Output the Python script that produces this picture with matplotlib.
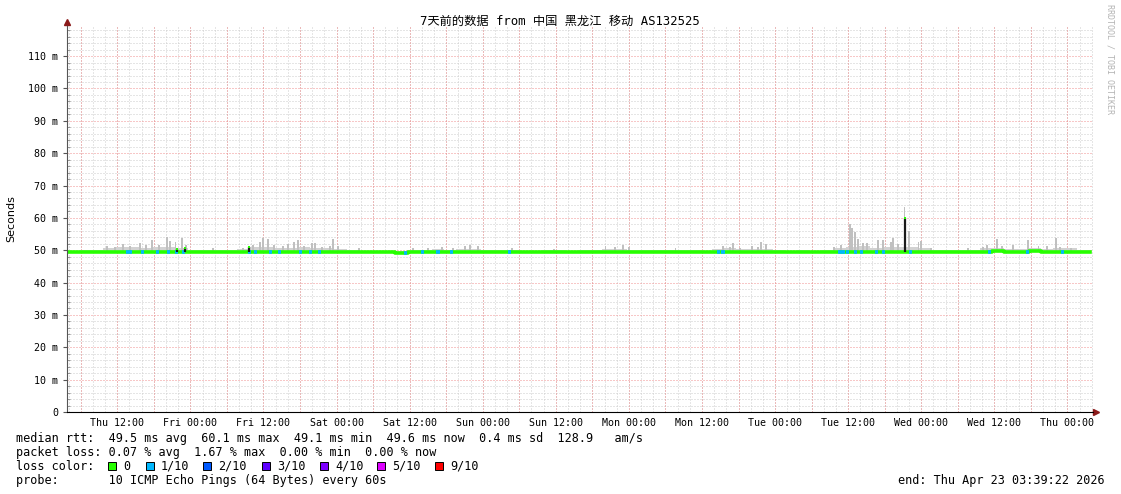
import datetime as dt
import matplotlib
matplotlib.use('Agg')
import matplotlib.pyplot as plt
from matplotlib.patches import Rectangle

# 数据：7天, 每块2小时 (从 Thu 03:39:22 开始)
start = dt.datetime(2026, 4, 16, 3, 39, 22)
span_hours = 168

median_ms = [
    49.4, 49.4, 49.5,
    49.5, 49.6, 49.5, 49.6, 49.5, 49.6, 49.5,
    49.4, 49.4, 49.4, 49.3, 49.4,
    49.6, 49.5, 49.6, 49.5, 49.5, 49.6, 49.5,
    49.4, 49.4, 49.4, 49.4, 49.3,
    49.2, 49.3, 49.3, 49.4, 49.4, 49.5, 49.5,
    49.4, 49.5, 49.5, 49.4, 49.5, 49.5, 49.4, 49.5,
    49.5, 49.5, 49.6, 49.5, 49.5, 49.5,
    49.5, 49.5, 49.4, 49.5, 49.5,
    49.6, 49.6, 49.5, 49.6, 49.6,
    49.5, 49.5, 49.5, 49.4, 49.5,
    49.4, 49.5, 49.4, 49.4, 49.5, 49.4, 49.6, 49.6,
    49.6, 49.5, 49.5, 49.6,
    49.6, 49.7, 49.6, 49.6, 49.7, 49.6, 49.6, 49.6,
    49.6,
]

smoke_top_ms = [
    49.9, 50.0, 50.2,
    50.8, 50.9, 50.9, 50.8, 51.0, 50.9, 50.8,
    50.1, 50.0, 50.0, 50.1, 50.3,
    50.9, 51.0, 50.8, 50.8, 51.0, 50.7, 50.7,
    50.3, 50.0, 49.9, 49.9, 49.8,
    49.9, 50.2, 50.2, 50.3, 50.2, 50.4, 50.4,
    50.0, 50.0, 50.2, 49.9, 49.9, 50.0, 50.0, 49.9,
    50.1, 50.0, 50.5, 50.4, 50.2, 50.0,
    50.0, 50.1, 50.0, 50.0, 49.9,
    50.3, 50.6, 50.4, 50.3, 50.5,
    50.0, 49.9, 50.0, 49.9, 50.0,
    50.7, 51.0, 51.2, 50.8, 50.9, 51.0, 50.9, 50.6,
    50.1, 50.0, 50.0, 50.2,
    50.6, 50.7, 50.5, 50.5, 50.6, 50.5, 50.7, 50.6,
    50.2,
]

# 烟雾尖峰 (小时, ms)
peak_hours = [6.7, 8.0, 9.2, 10.5, 12.1, 13.0, 14.0, 15.2, 16.5, 17.0, 17.9, 19.0, 19.6,
              24.0, 29.0, 30.6, 31.7, 32.3, 33.1, 34.0, 35.5, 36.4, 37.3, 38.0, 39.0,
              40.3, 40.8, 42.0, 43.2, 43.8, 44.6, 48.0, 56.9, 59.4, 61.7, 63.5, 65.5,
              66.3, 67.6, 73.2, 80.0, 88.5, 90.0, 91.3, 92.4, 100.0, 107.8, 109.0,
              109.5, 110.6, 112.6, 113.5, 114.1, 114.8, 126.0, 127.2, 128.6, 129.0,
              129.4, 130.0, 130.8, 131.5, 133.3, 134.1, 135.4, 135.7, 136.6, 137.6,
              138.4, 139.9, 140.3, 142.0, 148.0, 150.5, 151.2, 152.8, 153.6, 155.4,
              157.8, 159.6, 161.0, 162.4, 163.2, 165.0]
peak_ms = [51.4, 51.0, 51.8, 51.2, 52.1, 51.5, 53.1, 51.6, 54.1, 52.8, 52.6, 53.9, 51.5,
           50.6, 50.8, 51.6, 52.6, 53.9, 53.4, 51.5, 51.3, 51.8, 52.6, 53.1, 51.4,
           52.1, 52.1, 51.0, 51.4, 53.5, 51.2, 50.6, 50.8, 50.7, 51.1, 50.6, 51.3,
           51.5, 51.2, 50.6, 50.5, 51.4, 51.0, 51.6, 50.9, 50.6, 51.4, 51.0,
           52.1, 50.7, 51.2, 50.9, 52.6, 51.8, 51.0, 51.6, 58.0, 56.8,
           55.5, 53.5, 52.1, 52.1, 53.1, 53.2, 52.6, 53.7, 52.0, 63.4,
           55.9, 52.6, 52.8, 50.6, 50.6, 51.1, 51.5, 53.5, 51.3, 51.6,
           53.1, 51.3, 51.2, 53.9, 51.1, 50.7]

# 1/10 丢包的时刻
loss_hours = [10.0, 10.5, 12.5, 15.0, 16.8, 18.0, 19.2, 30.0, 31.0, 33.5, 35.0, 38.5,
              40.0, 41.5, 55.6, 58.4, 61.0, 63.2, 72.7, 107.0, 107.8, 127.0, 127.5,
              128.3, 129.5, 130.5, 133.0, 134.1, 138.6, 151.5, 157.8, 163.5]

# 中位数突跳
jump_hours = [18.1, 19.5, 30.0, 137.6]
jump_ms = [50.5, 50.7, 50.9, 60.1]

W, H = 1121, 494
fig = plt.figure(figsize=(W / 100, H / 100), dpi=100)
ax_l, ax_r, ax_t, ax_b = 66.5, 1093.3, 26, 412
ax = fig.add_axes([ax_l / W, 1 - ax_b / H, (ax_r - ax_l) / W, (ax_b - ax_t) / H])
ax.set_xlim(0, 168.6)
ax.set_ylim(0, 119.3)

# 网格
hour0 = start.hour + start.minute / 60 + start.second / 3600
first6 = (6 - hour0 % 6) % 6
first2 = (2 - hour0 % 2) % 2
h = first2
while h < 168.6:
    ax.axvline(h, color='#cccccc', lw=0.72, ls=(0, (1, 2)), zorder=0)
    h += 2
h = first6
while h < 168.6:
    ax.axvline(h, color='#f09090', lw=0.72, ls=(0, (1, 2)), zorder=0.5)
    h += 6
for v in range(2, 120, 2):
    c = '#f09090' if v % 10 == 0 else '#cccccc'
    ax.axhline(v, color=c, lw=0.72, ls=(0, (1, 2)), zorder=0.5 if v % 10 == 0 else 0)

# 烟雾
edges = [2 * i for i in range(len(median_ms) + 1)]
low = [m - 0.3 for m in median_ms]
ax.fill_between(edges, low + [low[-1]], smoke_top_ms + [smoke_top_ms[-1]],
                step='post', color='#d2d2d2', lw=0, zorder=1)
base = [median_ms[int(p // 2)] for p in peak_hours]
ax.bar(peak_hours, [p - b for p, b in zip(peak_ms, base)], bottom=base,
       width=0.32, color='#c0c0c0', lw=0, zorder=1.2)

# 中位数线
ax.step(edges, median_ms + [median_ms[-1]], where='post', color='#26ff00', lw=2.6, zorder=3)
loss_y = [median_ms[int(p // 2)] for p in loss_hours]
ax.hlines(loss_y, [p - 0.25 for p in loss_hours], [p + 0.25 for p in loss_hours],
          color='#00b8ff', lw=2.6, zorder=3.5)
jump_base = [median_ms[int(p // 2)] for p in jump_hours]
ax.vlines(jump_hours, jump_base, jump_ms, color='#1a1a1a', lw=1.6, zorder=4)
ax.plot(jump_hours, jump_ms, 's', color='#26ff00', ms=2, mew=0, zorder=5)

# 坐标轴
for s in ['top', 'right']:
    ax.spines[s].set_visible(False)
ax.spines['left'].set_color('#555555')
ax.spines['bottom'].set_color('#000000')
ax.spines['left'].set_zorder(6)
ax.spines['bottom'].set_zorder(6)
ax.plot([0], [1.01], marker='^', color='#8b1a1a', ms=4, transform=ax.transAxes, clip_on=False)
ax.plot([1.003], [0], marker='>', color='#8b1a1a', ms=4, transform=ax.transAxes, clip_on=False)

mono = 'DejaVu Sans Mono'
yt = list(range(0, 120, 10))
ax.set_yticks(yt)
ax.set_yticklabels(['0'] + [f'{v} m' for v in yt[1:]], family=mono, fontsize=7.2)
ax.set_yticks(range(0, 120, 2), minor=True)
ax.tick_params(axis='y', which='major', length=3, pad=3, color='#555555')
ax.tick_params(axis='y', which='minor', length=2, direction='in', color='#888888')

first12 = (12 - hour0 % 12) % 12
xt = []
h = first12
while h < 168.6:
    xt.append(h)
    h += 12
ax.set_xticks(xt)
ax.set_xticklabels([(start + dt.timedelta(hours=t)).strftime('%a %H:%M') for t in xt],
                   family=mono, fontsize=7.2)
ax.tick_params(axis='x', length=0, pad=4)


def px_text(x, y, s, **kw):
    fig.text(x / W, 1 - y / H, s, va='center', **kw)


px_text(560, 21, '7天前的数据 from 中国 黑龙江 移动 AS132525', ha='center', fontsize=8.8,
        family=[mono, 'Noto Sans CJK SC'])
px_text(11, 219, 'Seconds', ha='center', rotation=90, fontsize=8, family='DejaVu Sans')
fig.text(1110 / W, 1 - 4 / H, 'RRDTOOL / TOBI OETIKER', ha='center', va='top', rotation=270,
         fontsize=6, family=mono, color='#b4b4b4')

lf = dict(family=mono, fontsize=8.45, ha='left')
px_text(16, 438, 'median rtt:  49.5 ms avg  60.1 ms max  49.1 ms min  49.6 ms now  0.4 ms sd  128.9   am/s', **lf)
px_text(16, 452, 'packet loss: 0.07 % avg  1.67 % max  0.00 % min  0.00 % now', **lf)
px_text(16, 466, 'loss color:', **lf)
px_text(16, 480, 'probe:       10 ICMP Echo Pings (64 Bytes) every 60s', **lf)
px_text(1105, 480, 'end: Thu Apr 23 03:39:22 2026', family=mono, fontsize=8.45, ha='right')

loss_labels = ['0', '1/10', '2/10', '3/10', '4/10', '5/10', '9/10']
loss_colors = ['#26ff00', '#00b8ff', '#0059ff', '#5e00ff', '#7e00ff', '#dd00ff', '#ff0000']
sq_x = [108, 146, 203, 262, 320, 377, 435]
for sx, lab, col in zip(sq_x, loss_labels, loss_colors):
    fig.patches.append(Rectangle((sx / W, 1 - 470 / H), 8 / W, 8 / H, transform=fig.transFigure,
                                 facecolor=col, edgecolor='black', lw=0.7))
    px_text(sx + 15, 466, lab, **lf)

fig.savefig('out.png', dpi=100)
